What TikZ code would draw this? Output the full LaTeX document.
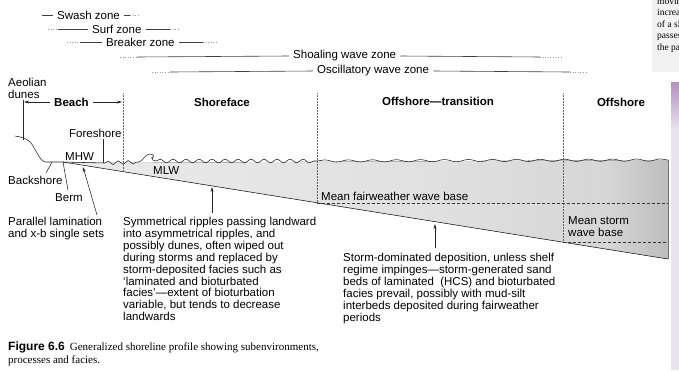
\documentclass[tikz,border=0pt]{standalone}
\usepackage{fontspec}
\setsansfont{Liberation Sans}
\newfontfamily\capserif{Liberation Serif}
\usetikzlibrary{positioning,arrows.meta,decorations.pathmorphing}
\definecolor{edgelav}{RGB}{234,228,240}
\definecolor{edgeplum}{RGB}{178,142,200}
\pgfdeclarehorizontalshading{seabed}{100bp}{color(0bp)=(gray!16); color(25bp)=(gray!16); color(55bp)=(gray!24); color(70bp)=(gray!32); color(75bp)=(gray!52); color(100bp)=(gray!52)}

\begin{document}
\begin{tikzpicture}[x=1pt,y=-1pt,
		txt/.style={font=\sffamily\fontsize{11.5}{11.9}\selectfont,inner sep=0pt,align=left},
		zone/.style={txt,anchor=west,inner xsep=4pt},
		hdr/.style={font=\sffamily\bfseries\fontsize{11.5}{12}\selectfont,inner xsep=4pt,inner ysep=0pt},
		zline/.style={black!75,line width=0.6pt},
		zdots/.style={black!40,line width=0.6pt,dotted},
		bound/.style={black!60,line width=0.5pt,densely dotted},
		wbase/.style={black!80,line width=0.6pt,dash pattern=on 3pt off 2pt},
		lead/.style={black!85,line width=0.55pt},
		pt/.style={lead,-{Stealth[length=5pt,width=3pt]}},
		wave/.style={lead,decorate,decoration={snake,segment length=#1,amplitude=1.8pt}}]
		\fill[white](0,0) rectangle (679,370);
		\useasboundingbox(0,0) rectangle (679,370);
		% neighbouring page and binding edge
		\fill[black!5](652,0) rectangle (679,72);
		\begin{scope}
			\clip(652,0) rectangle (679,72);
			\node[anchor=north west,inner sep=0pt,align=left,font=\capserif\fontsize{9.5}{11.5}\selectfont] (nextpage) at (657,-2) {movin\\increa\\of a sl\\passes\\the pa};
		\end{scope}
		\shade[top color=edgeplum,bottom color=edgelav](671,82) rectangle (679,130);
		\fill[edgelav](671,130) rectangle (679,370);
		% sea body
		\coordinate (bermP) at (63,162);
		\coordinate (shoreP) at (105,163);
		\coordinate (seaTop) at (668,160);
		\coordinate (seaBot) at (668,259);
		\fill[shading=seabed](bermP) -- (shoreP) -- (seaTop) -- (seaBot) -- cycle;
		\draw[black!55,line width=0.8pt](seaTop) -- (seaBot);
		\draw[lead](bermP) -- (seaBot);
		\draw[lead](bermP) -- (shoreP);
		% dune and backshore
		\coordinate (aeolA) at (23,100);
		\coordinate (aeolB) at (23,140);
		\draw[lead](aeolA) -- (aeolB);
		\draw[lead](15,136) .. controls (22,137) and (28,139) .. (31,143) .. controls (34,147) and (35,150) .. (37,153) .. controls (40,158) and (42,162) .. (46,162) -- (bermP);
		% water surface
		\draw[wave=10pt](shoreP) -- (139,162);
		\draw[lead](139,162) .. controls (143,161) and (145,154) .. (150,154) .. controls (154,154) and (155,158) .. (151,158);
		\draw[lead](152,157) .. controls (152,160) and (153,161) .. (156,161);
		\draw[wave=13pt](156,161) -- (317,161);
		\draw[wave=24pt,decoration={amplitude=1.1pt}](317,161) -- (seaTop);
		% zone boundaries and wave bases
		\foreach \x/\y in{123/172,317/203,563/242}
		\draw[bound](\x,93) -- (\x,\y);
		\draw[wbase](317,203) -- (668,203);
		\draw[wbase](563,242) -- (668,242);
		% wave zones
		\node[zone] (swash) at (53,15) {Swash zone};
		\draw[zline](42,15) -- (swash.west);
		\draw[zline](swash.east) -- (130,15);
		\draw[zdots](130,15) -- (138,15);
		\node[zone] (surf) at (88,29) {Surf zone};
		\draw[zdots](48,29) -- (58,29);
		\draw[zline](58,29) -- (surf.west);
		\draw[zline](surf.east) -- (170,29);
		\draw[zdots](170,29) -- (180,29);
		\node[zone] (breaker) at (102,42) {Breaker zone};
		\draw[zdots](67,42) -- (80,42);
		\draw[zline](80,42) -- (breaker.west);
		\draw[zline](breaker.east) -- (203,42);
		\draw[zdots](203,42) -- (217,42);
		\node[zone] (shoaling) at (289,56) {Shoaling wave zone};
		\draw[zdots](120,57) -- (137,57);
		\draw[zline](137,57) -- (shoaling.west);
		\draw[zline](shoaling.east) -- (540,57);
		\draw[zdots](540,57) -- (563,57);
		\node[zone] (oscill) at (313,71) {Oscillatory wave zone};
		\draw[zdots](152,72) -- (170,72);
		\draw[zline](170,72) -- (oscill.west);
		\draw[zline](oscill.east) -- (570,72);
		\draw[zdots](570,72) -- (587,72);
		% subenvironments
		\node[hdr] (beach) at (71.5,102) {Beach};
		\coordinate (beachL) at (24,102);
		\coordinate (beachR) at (122,102);
		\draw[pt](beach) -- (beachL);
		\draw[pt](beach) -- (beachR);
		\node[hdr] (shoreface) at (222,102) {Shoreface};
		\node[hdr] (transition) at (438,101) {Offshore---transition};
		\node[hdr] (offshore) at (621,102) {Offshore};
		% profile labels
		\node[txt,anchor=north west] (aeolian) at (8,78) {Aeolian\\dunes};
		\node[txt,anchor=west] (foreshore) at (69,133) {Foreshore};
		\draw[lead](103,139) -- (103,163);
		\node[txt,anchor=west] (mhw) at (65,157) {MHW};
		\node[txt,anchor=west] (mlw) at (153,171) {MLW};
		\node[txt,anchor=west] (backshore) at (8,180) {Backshore};
		\draw[lead](46,173) -- (52,162);
		\node[txt,anchor=west] (berm) at (55,198) {Berm};
		\draw[lead](68,190) -- (bermP);
		\node[txt,anchor=west] (fairwb) at (321,196) {Mean fairweather wave base};
		\node[txt,anchor=north west] (stormwb) at (568,216) {Mean storm\\wave base};
		% facies
		\node[txt,anchor=north west] (plam) at (8,217) {Parallel lamination\\and x-b single sets};
		\node[txt,anchor=north west] (sym) at (123,217) {Symmetrical ripples passing landward\\into asymmetrical ripples, and\\possibly dunes, often wiped out\\during storms and replaced by\\storm-deposited facies such as\\`laminated and bioturbated\\facies'---extent of bioturbation\\variable, but tends to decrease\\landwards};
		\node[txt,anchor=north west] (storm) at (343,253) {Storm-dominated deposition, unless shelf\\regime impinges---storm-generated sand\\beds of laminated\ \ (HCS) and bioturbated\\facies prevail, possibly with mud-silt\\interbeds deposited during fairweather\\periods};
		\coordinate (plamTail) at (97,215);
		\coordinate (plamTip) at (83,167);
		\coordinate (symTail) at (212,213);
		\coordinate (symTip) at (212,187);
		\coordinate (stormTail) at (435,248);
		\coordinate (stormTip) at (435,224);
		\draw[pt](plamTail) -- (plamTip);
		\draw[pt](symTail) -- (symTip);
		\draw[pt](stormTail) -- (stormTip);
		% caption
		\node[anchor=north west,inner sep=0pt,align=left,font=\capserif\fontsize{11}{13}\selectfont] (caption) at (8,342) {{\sffamily\bfseries\fontsize{12}{13}\selectfont Figure 6.6}\hspace{5pt}Generalized shoreline profile showing subenvironments,\\processes and facies.};
	\end{tikzpicture}
\end{document}
